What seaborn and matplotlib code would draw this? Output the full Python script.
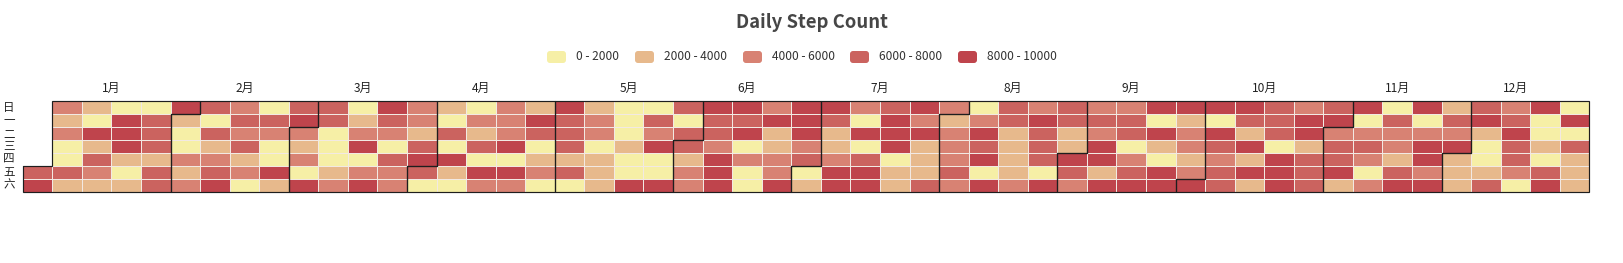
import calendar
import datetime as dt

import matplotlib
matplotlib.use("Agg")
import matplotlib.pyplot as plt
import numpy as np
import pandas as pd
import seaborn as sns
from matplotlib.colors import BoundaryNorm, ListedColormap
from matplotlib.patches import FancyBboxPatch, Rectangle

# ---------------------------------------------------------------- data
YEAR = 2016

# daily step counts, one list per month
jan = [7000, 9000, 5000, 3000, 5000, 1000, 1000, 7000, 3000, 3000, 1000, 9000, 3000, 7000, 5000, 3000,
       1000, 9000, 9000, 9000, 3000, 1000, 3000, 1000, 7000, 7000, 7000, 3000, 7000, 7000, 9000]
feb = [3000, 1000, 1000, 5000, 3000, 5000, 7000, 1000, 7000, 3000, 5000, 7000, 9000, 5000, 7000,
       5000, 7000, 3000, 5000, 1000, 1000, 7000, 5000, 1000, 1000, 9000, 3000, 7000, 9000]
mar = [5000, 3000, 5000, 1000, 9000, 7000, 7000, 1000, 1000, 1000, 3000, 5000, 1000, 3000, 5000, 9000,
       1000, 5000, 9000, 9000, 7000, 5000, 1000, 7000, 5000, 5000, 5000, 5000, 3000, 7000, 9000]
apr = [7000, 1000, 3000, 1000, 7000, 1000, 9000, 3000, 1000, 1000, 5000, 3000, 7000, 1000, 9000,
       5000, 5000, 5000, 5000, 9000, 1000, 9000, 5000, 3000, 9000, 7000, 1000, 3000, 5000, 1000]
may = [9000, 7000, 7000, 7000, 3000, 7000, 1000, 3000, 5000, 5000, 1000, 3000, 3000, 3000, 1000, 1000,
       1000, 3000, 1000, 1000, 9000, 1000, 7000, 5000, 9000, 1000, 1000, 9000, 7000, 1000, 7000]
jun = [7000, 3000, 5000, 5000, 9000, 7000, 7000, 5000, 9000, 9000, 9000, 9000, 7000, 9000, 1000,
       5000, 1000, 1000, 5000, 9000, 3000, 3000, 5000, 5000, 9000, 9000, 9000, 9000, 5000, 7000]
jul = [1000, 3000, 9000, 7000, 3000, 3000, 5000, 9000, 9000, 5000, 1000, 9000, 1000, 7000, 9000, 9000,
       7000, 9000, 9000, 9000, 1000, 3000, 3000, 9000, 5000, 9000, 3000, 3000, 3000, 7000, 5000]
aug = [3000, 5000, 5000, 5000, 7000, 5000, 1000, 5000, 9000, 7000, 9000, 1000, 9000, 7000, 7000, 3000,
       3000, 3000, 3000, 5000, 5000, 9000, 7000, 7000, 7000, 1000, 9000, 7000, 7000, 3000, 3000]
sep = [9000, 7000, 5000, 5000, 7000, 5000, 9000, 9000, 3000, 9000, 5000, 7000, 7000, 1000, 5000,
       7000, 9000, 9000, 1000, 9000, 3000, 1000, 9000, 9000, 9000, 3000, 5000, 5000, 3000, 5000]
oct_ = [9000, 9000, 1000, 9000, 7000, 5000, 7000, 7000, 9000, 7000, 3000, 9000, 3000, 9000, 3000, 7000,
        7000, 7000, 1000, 9000, 9000, 9000, 5000, 9000, 9000, 3000, 7000, 7000, 7000, 7000, 9000]
nov = [5000, 7000, 7000, 9000, 3000, 9000, 1000, 5000, 7000, 5000, 1000, 5000, 1000, 7000, 5000,
       5000, 3000, 7000, 9000, 9000, 1000, 5000, 9000, 9000, 5000, 9000, 3000, 7000, 5000, 9000]
dec = [3000, 3000, 3000, 7000, 9000, 3000, 1000, 1000, 3000, 7000, 5000, 7000, 9000, 7000, 7000, 5000,
       1000, 9000, 1000, 1000, 3000, 1000, 7000, 9000, 1000, 9000, 1000, 7000, 3000, 3000, 3000]

monthly_steps = [jan, feb, mar, apr, may, jun, jul, aug, sep, oct_, nov, dec]
month_labels = ["1月", "2月", "3月", "4月", "5月", "6月", "7月", "8月", "9月", "10月", "11月", "12月"]
day_labels = ["日", "一", "二", "三", "四", "五", "六"]

bin_edges = [0, 2000, 4000, 6000, 8000, 10000]
bin_labels = ["0 - 2000", "2000 - 4000", "4000 - 6000", "6000 - 8000", "8000 - 10000"]
bin_colors = ["#f6efa6", "#e7b98c", "#d88273", "#cb635f", "#bf444c"]

# ---------------------------------------------------------------- calendar table
records = []
start = dt.date(YEAR, 1, 1)
lead = (start.weekday() + 1) % 7  # Sunday-first weekday index of Jan 1
for m, steps in enumerate(monthly_steps, start=1):
    assert len(steps) == calendar.monthrange(YEAR, m)[1]
    for d, v in enumerate(steps, start=1):
        idx = (dt.date(YEAR, m, d) - start).days + lead
        records.append({"month": m, "week": idx // 7, "weekday": idx % 7, "steps": v})
df = pd.DataFrame(records)
n_weeks = df["week"].max() + 1
grid = (df.pivot(index="weekday", columns="week", values="steps")
          .reindex(index=range(7), columns=range(n_weeks)))

# ---------------------------------------------------------------- figure
W, H = 1624, 263
sns.set_theme(style="white")
plt.rcParams["font.family"] = ["Noto Sans CJK SC", "DejaVu Sans"]

fig = plt.figure(figsize=(W / 100, H / 100), dpi=100)
fig.patch.set_facecolor("white")

# overlay in pixel units for title and legend
ov = fig.add_axes([0, 0, 1, 1])
ov.set_xlim(0, W)
ov.set_ylim(H, 0)
ov.axis("off")

gx0, gx1, gy0, gy1 = 22.7, 1589.4, 100.7, 191.7
ax = fig.add_axes([gx0 / W, 1 - gy1 / H, (gx1 - gx0) / W, (gy1 - gy0) / H])

cmap = ListedColormap(bin_colors)
norm = BoundaryNorm(bin_edges, cmap.N)
sns.heatmap(grid, cmap=cmap, norm=norm, cbar=False, linewidths=0.6, linecolor="#f2e9e3",
            xticklabels=False, yticklabels=False, ax=ax)
ax.set_xlabel("")
ax.set_ylabel("")
ax.set_xlim(0, n_weeks)
ax.set_ylim(7, 0)

# blank out cell borders of days outside the year
for r, c in zip(*np.where(grid.isna().to_numpy())):
    ax.add_patch(Rectangle((c - 0.02, r - 0.02), 1.04, 1.04, facecolor="white",
                           edgecolor="none", zorder=3, clip_on=False))

# month outlines and labels
for m in range(1, 13):
    sub = df[df["month"] == m]
    first, last = sub.iloc[0], sub.iloc[-1]
    c0, r0 = first["week"], first["weekday"]
    c1, r1 = last["week"], last["weekday"]
    xs = [c0, c0 + 1, c0 + 1, c1 + 1, c1 + 1, c1, c1, c0, c0]
    ys = [r0, r0, 0, 0, r1 + 1, r1 + 1, 7, 7, r0]
    ax.plot(xs, ys, color="#1e1e1e", lw=0.85, solid_joinstyle="miter", clip_on=False, zorder=5)
    ax.text((c0 + c1 + 1) / 2, -0.98, month_labels[m - 1], ha="center", va="center",
            fontsize=8.6, color="#222222", clip_on=False)

for r, lab in enumerate(day_labels):
    ax.text(-0.47, r + 0.5, lab, ha="center", va="center", fontsize=8.3,
            color="#222222", clip_on=False)

# title
ov.text(812, 22, "Daily Step Count", ha="center", va="center", fontsize=13.3,
        fontweight="bold", color="#464646")

# piecewise legend
swatch_x = [547, 635, 743, 850, 958]
for x, lab, col in zip(swatch_x, bin_labels, bin_colors):
    ov.add_patch(FancyBboxPatch((x, 51), 19, 12, boxstyle="round,pad=0,rounding_size=3",
                                facecolor=col, edgecolor="none"))
    ov.text(x + 29, 57, lab, ha="left", va="center", fontsize=8.6, color="#333333")

fig.savefig("out.png", dpi=100, facecolor="white")
